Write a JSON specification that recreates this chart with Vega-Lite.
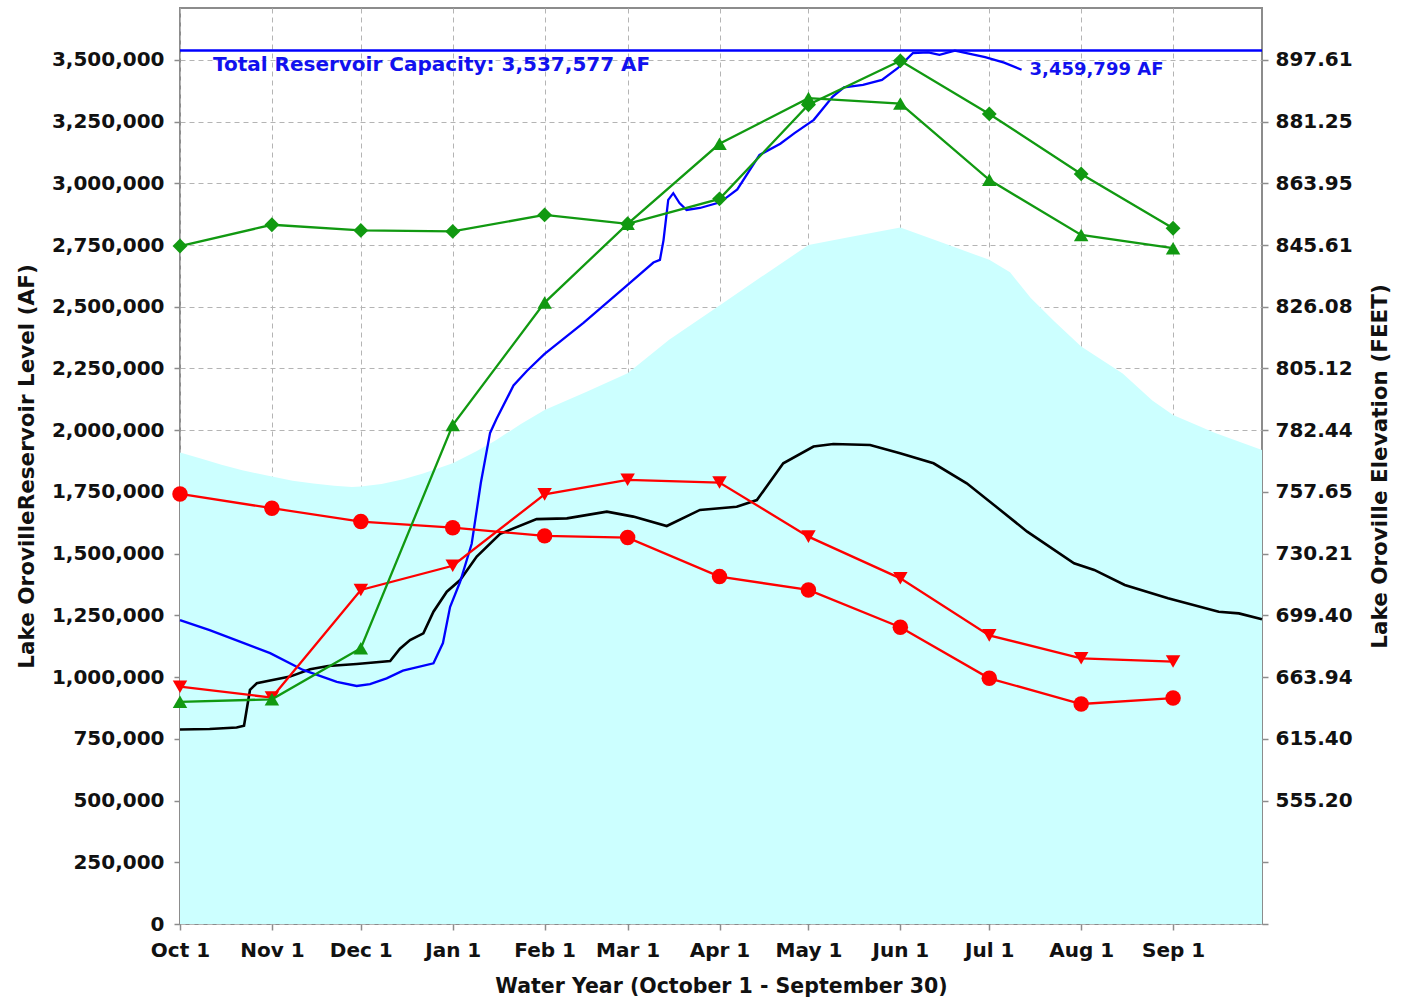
{
  "$schema": "https://vega.github.io/schema/vega-lite/v6.json",
  "width": 1082,
  "height": 916,
  "autosize": "none",
  "padding": {"left": 180, "top": 8, "right": 147, "bottom": 78},
  "background": "white",
  "config": {
    "view": {"stroke": "#8c8c8c", "strokeWidth": 2},
    "axis": {
      "labelFont": "DejaVu Sans", "labelFontWeight": "bold", "labelFontSize": 20, "labelColor": "#111111",
      "titleFont": "DejaVu Sans", "titleFontWeight": "bold", "titleFontSize": 21.5, "titleColor": "#111111",
      "domain": false, "tickColor": "#8c8c8c", "tickSize": 6, "tickWidth": 1.5,
      "gridColor": "#b4b4b4", "gridDash": [5, 4], "gridWidth": 1
    }
  },
  "datasets": {
    "flood": [
      {"day": 0, "value": 1910000}, {"day": 7, "value": 1885000}, {"day": 14, "value": 1860000},
      {"day": 21, "value": 1838000}, {"day": 31, "value": 1812000}, {"day": 38, "value": 1795000},
      {"day": 45, "value": 1784000}, {"day": 52, "value": 1775000}, {"day": 58, "value": 1770000},
      {"day": 61, "value": 1772000}, {"day": 68, "value": 1782000}, {"day": 75, "value": 1800000},
      {"day": 82, "value": 1825000}, {"day": 92, "value": 1866000}, {"day": 100, "value": 1915000},
      {"day": 106, "value": 1955000}, {"day": 115, "value": 2025000}, {"day": 123, "value": 2082000},
      {"day": 137, "value": 2155000}, {"day": 151, "value": 2231000}, {"day": 165, "value": 2366000},
      {"day": 182, "value": 2505000}, {"day": 196, "value": 2620000}, {"day": 212, "value": 2750000},
      {"day": 226, "value": 2782000}, {"day": 243, "value": 2821000}, {"day": 257, "value": 2760000},
      {"day": 273, "value": 2690000}, {"day": 280, "value": 2640000}, {"day": 287, "value": 2535000},
      {"day": 295, "value": 2440000}, {"day": 304, "value": 2339000}, {"day": 318, "value": 2230000},
      {"day": 328, "value": 2120000}, {"day": 335, "value": 2062000}, {"day": 349, "value": 1990000},
      {"day": 365, "value": 1920000}
    ],
    "capacity": [{"day": 0, "day_end": 365, "value": 3537577}],
    "average": [
      {"day": 0, "value": 788000}, {"day": 10, "value": 790000}, {"day": 19.1, "value": 796000},
      {"day": 21.6, "value": 803000}, {"day": 23.6, "value": 948000}, {"day": 25.9, "value": 975000},
      {"day": 30.4, "value": 986000}, {"day": 37.1, "value": 1002000}, {"day": 43.9, "value": 1032000},
      {"day": 50, "value": 1045000}, {"day": 59.6, "value": 1053000}, {"day": 70.9, "value": 1065000},
      {"day": 74.2, "value": 1115000}, {"day": 77.6, "value": 1150000}, {"day": 82.1, "value": 1177000},
      {"day": 85.5, "value": 1265000}, {"day": 90, "value": 1346000}, {"day": 94.5, "value": 1393000},
      {"day": 100.1, "value": 1488000}, {"day": 108, "value": 1580000}, {"day": 120.3, "value": 1640000},
      {"day": 130.5, "value": 1643000}, {"day": 144, "value": 1670000}, {"day": 152.9, "value": 1650000},
      {"day": 164.2, "value": 1612000}, {"day": 175.4, "value": 1677000}, {"day": 187.8, "value": 1690000},
      {"day": 194.6, "value": 1717000}, {"day": 203.5, "value": 1866000}, {"day": 213.7, "value": 1934000},
      {"day": 220.4, "value": 1944000}, {"day": 232.8, "value": 1940000}, {"day": 242.9, "value": 1907000},
      {"day": 254.2, "value": 1866000}, {"day": 265.4, "value": 1785000}, {"day": 276.7, "value": 1677000},
      {"day": 285.8, "value": 1589000}, {"day": 301.6, "value": 1461000}, {"day": 308.4, "value": 1434000},
      {"day": 318.7, "value": 1373000}, {"day": 333.3, "value": 1319000}, {"day": 350.4, "value": 1265000},
      {"day": 357.2, "value": 1258000}, {"day": 365, "value": 1234000}
    ],
    "current": [
      {"day": 0, "value": 1231000}, {"day": 10, "value": 1190000}, {"day": 20, "value": 1145000},
      {"day": 30.4, "value": 1097000}, {"day": 41.5, "value": 1029000}, {"day": 52.9, "value": 981000},
      {"day": 59.6, "value": 964000}, {"day": 64.1, "value": 972000}, {"day": 69.7, "value": 995000},
      {"day": 75.2, "value": 1026000}, {"day": 85.5, "value": 1056000}, {"day": 88.7, "value": 1138000},
      {"day": 91.1, "value": 1284000}, {"day": 94.5, "value": 1386000}, {"day": 98.4, "value": 1540000},
      {"day": 101.5, "value": 1788000}, {"day": 104.6, "value": 1989000}, {"day": 106.8, "value": 2046000},
      {"day": 112.5, "value": 2181000}, {"day": 117, "value": 2240000}, {"day": 122.9, "value": 2308000},
      {"day": 136.1, "value": 2435000}, {"day": 151, "value": 2589000}, {"day": 159.7, "value": 2679000},
      {"day": 161.9, "value": 2690000}, {"day": 163.1, "value": 2769000}, {"day": 164.7, "value": 2933000},
      {"day": 166.4, "value": 2960000}, {"day": 168.5, "value": 2920000}, {"day": 170.9, "value": 2892000},
      {"day": 175.4, "value": 2900000}, {"day": 182.2, "value": 2923000}, {"day": 188, "value": 2975000},
      {"day": 195.5, "value": 3115000}, {"day": 202.5, "value": 3160000}, {"day": 207.3, "value": 3203000},
      {"day": 213.8, "value": 3257000}, {"day": 220.2, "value": 3351000}, {"day": 224, "value": 3389000},
      {"day": 230.4, "value": 3399000}, {"day": 236.8, "value": 3419000}, {"day": 242.1, "value": 3466000},
      {"day": 247.2, "value": 3527000}, {"day": 252.4, "value": 3530000}, {"day": 256.2, "value": 3520000},
      {"day": 261.4, "value": 3537000}, {"day": 266.5, "value": 3524000}, {"day": 271.6, "value": 3511000},
      {"day": 278, "value": 3489000}, {"day": 283.9, "value": 3459799}
    ],
    "redCircle": [
      {"day": 0, "value": 1742000}, {"day": 31, "value": 1684000}, {"day": 61, "value": 1630000},
      {"day": 92, "value": 1605000}, {"day": 123, "value": 1572000}, {"day": 151, "value": 1565000},
      {"day": 182, "value": 1407000}, {"day": 212, "value": 1353000}, {"day": 243, "value": 1202000},
      {"day": 273, "value": 995000}, {"day": 304, "value": 891000}, {"day": 335, "value": 915000}
    ],
    "redTriangle": [
      {"day": 0, "value": 961000}, {"day": 31, "value": 917000}, {"day": 61, "value": 1353000},
      {"day": 92, "value": 1451000}, {"day": 123, "value": 1740000}, {"day": 151, "value": 1799000},
      {"day": 182, "value": 1788000}, {"day": 212, "value": 1569000}, {"day": 243, "value": 1400000},
      {"day": 273, "value": 1169000}, {"day": 304, "value": 1076000}, {"day": 335, "value": 1063000}
    ],
    "greenDiamond": [
      {"day": 0, "value": 2746000}, {"day": 31, "value": 2832000}, {"day": 61, "value": 2809000},
      {"day": 92, "value": 2805000}, {"day": 123, "value": 2872000}, {"day": 151, "value": 2836000},
      {"day": 182, "value": 2937000}, {"day": 212, "value": 3318000}, {"day": 243, "value": 3496000},
      {"day": 273, "value": 3281000}, {"day": 304, "value": 3038000}, {"day": 335, "value": 2818000}
    ],
    "greenTriangle": [
      {"day": 0, "value": 900000}, {"day": 31, "value": 910000}, {"day": 61, "value": 1117000},
      {"day": 92, "value": 2021000}, {"day": 123, "value": 2517000}, {"day": 151, "value": 2836000},
      {"day": 182, "value": 3160000}, {"day": 212, "value": 3345000}, {"day": 243, "value": 3323000},
      {"day": 273, "value": 3014000}, {"day": 304, "value": 2791000}, {"day": 335, "value": 2737000}
    ],
    "capacityNote": [{"day": 11.1, "value": 3480000, "label": "Total Reservoir Capacity: 3,537,577 AF"}],
    "endNote": [{"day": 283.9, "value": 3459799, "label": "3,459,799 AF"}]
  },
  "encoding": {
    "x": {
      "field": "day", "type": "quantitative",
      "scale": {"domain": [0, 365], "nice": false, "zero": false},
      "axis": {
        "values": [0, 31, 61, 92, 123, 151, 182, 212, 243, 273, 304, 335],
        "labelExpr": "['Oct 1','Nov 1','Dec 1','Jan 1','Feb 1','Mar 1','Apr 1','May 1','Jun 1','Jul 1','Aug 1','Sep 1'][indexof([0,31,61,92,123,151,182,212,243,273,304,335], datum.value)]",
        "title": "Water Year (October 1 - September 30)",
        "labelPadding": 10, "titlePadding": 16, "grid": true, "labelFlush": false, "titleFontSize": 20.5
      }
    },
    "y": {
      "field": "value", "type": "quantitative",
      "scale": {"domain": [0, 3710000], "nice": false, "zero": true},
      "axis": null
    }
  },
  "layer": [
    {
      "data": {"name": "flood"},
      "mark": {"type": "area", "color": "#ccffff", "opacity": 1},
      "encoding": {
        "y": {
          "field": "value", "type": "quantitative",
          "scale": {"domain": [0, 3710000], "nice": false, "zero": true},
          "axis": {
            "orient": "left",
            "values": [0, 250000, 500000, 750000, 1000000, 1250000, 1500000, 1750000, 2000000, 2250000, 2500000, 2750000, 3000000, 3250000, 3500000],
            "format": ",d", "labelPadding": 10, "grid": true,
            "title": "Lake OrovilleReservoir Level (AF)",
            "titleX": -153, "titleY": 458, "titleBaseline": "middle", "titleAngle": -90
          }
        }
      }
    },
    {
      "data": {"name": "capacity"},
      "mark": {"type": "rule", "color": "#0000ff", "strokeWidth": 2.5},
      "encoding": {
        "x2": {"field": "day_end"},
        "y": {
          "field": "value", "type": "quantitative",
          "scale": {"domain": [0, 3710000], "nice": false, "zero": true},
          "axis": {
            "orient": "right",
            "values": [0, 250000, 500000, 750000, 1000000, 1250000, 1500000, 1750000, 2000000, 2250000, 2500000, 2750000, 3000000, 3250000, 3500000],
            "labelExpr": "['','','555.20','615.40','663.94','699.40','730.21','757.65','782.44','805.12','826.08','845.61','863.95','881.25','897.61'][round(datum.value / 250000)]",
            "labelPadding": 7, "grid": false,
            "title": "Lake Oroville Elevation (FEET)",
            "titleX": 118, "titleY": 458, "titleBaseline": "middle", "titleAngle": -90
          }
        }
      }
    },
    {
      "data": {"name": "average"},
      "mark": {"type": "line", "color": "#000000", "strokeWidth": 2.6}
    },
    {
      "data": {"name": "current"},
      "mark": {"type": "line", "color": "#0000ff", "strokeWidth": 2.3}
    },
    {
      "data": {"name": "redCircle"},
      "mark": {"type": "line", "color": "#ff0000", "strokeWidth": 2.3,
        "point": {"shape": "circle", "size": 240, "filled": true, "color": "#ff0000"}}
    },
    {
      "data": {"name": "redTriangle"},
      "mark": {"type": "line", "color": "#ff0000", "strokeWidth": 2.3,
        "point": {"shape": "triangle-down", "size": 210, "filled": true, "color": "#ff0000"}}
    },
    {
      "data": {"name": "greenDiamond"},
      "mark": {"type": "line", "color": "#119911", "strokeWidth": 2.3,
        "point": {"shape": "diamond", "size": 220, "filled": true, "color": "#119911"}}
    },
    {
      "data": {"name": "greenTriangle"},
      "mark": {"type": "line", "color": "#119911", "strokeWidth": 2.3,
        "point": {"shape": "triangle-up", "size": 210, "filled": true, "color": "#119911"}}
    },
    {
      "data": {"name": "capacityNote"},
      "mark": {"type": "text", "align": "left", "baseline": "middle", "font": "DejaVu Sans", "fontWeight": "bold", "fontSize": 20, "color": "#1111ee"},
      "encoding": {"text": {"field": "label"}}
    },
    {
      "data": {"name": "endNote"},
      "mark": {"type": "text", "align": "left", "baseline": "middle", "dx": 8, "font": "DejaVu Sans", "fontWeight": "bold", "fontSize": 18, "color": "#1111ee"},
      "encoding": {"text": {"field": "label"}}
    }
  ],
  "resolve": {"scale": {"y": "shared"}, "axis": {"y": "independent"}}
}
